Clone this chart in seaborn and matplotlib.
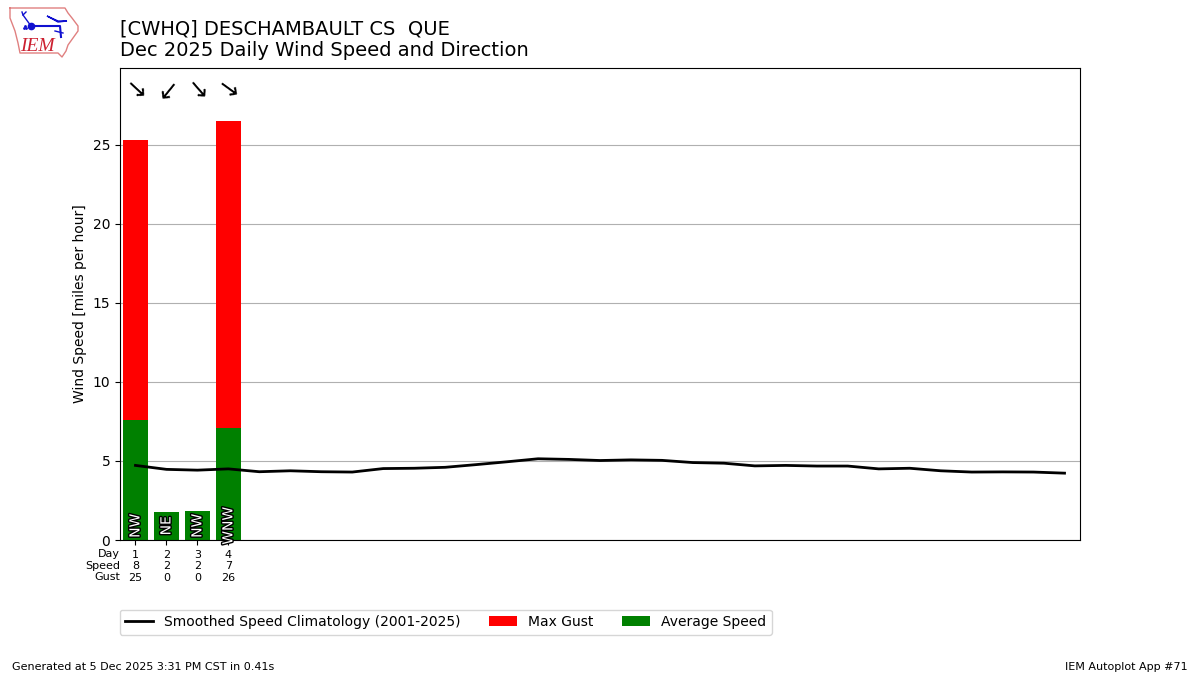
import numpy as np
import pandas as pd
import matplotlib
matplotlib.use("Agg")
import matplotlib.pyplot as plt
import matplotlib.patheffects as pe
import seaborn as sns

# values
days = [1, 2, 3, 4]
avg_speed = [7.6, 1.8, 1.85, 7.1]
max_gust = [25.3, 0, 0, 26.5]
speed_labels = [8, 2, 2, 7]
gust_labels = [25, 0, 0, 26]
dir_labels = ["NW", "NE", "NW", "WNW"]
dir_degrees = [313, 39, 319, 306]

clim_days = list(range(1, 32))
clim_speed = [4.72, 4.47, 4.42, 4.5, 4.32, 4.38, 4.32, 4.3, 4.52, 4.54, 4.6,
              4.77, 4.95, 5.14, 5.1, 5.03, 5.07, 5.04, 4.9, 4.86, 4.69, 4.72,
              4.68, 4.68, 4.5, 4.54, 4.38, 4.3, 4.31, 4.3, 4.23]

row_names = ["Day", "Speed", "Gust"]

# logo outline, in pixels of the logo box
iowa_x = [10, 65, 68, 72, 78, 78, 73, 68, 66, 62, 58, 20, 18, 15, 10, 10]
iowa_y = [8, 8, 13, 18, 26, 31, 38, 45, 51, 57, 53, 53, 43, 31, 18, 8]

df = pd.DataFrame({"day": days, "speed": avg_speed, "gust": max_gust})

fig = plt.figure(figsize=(12, 6.75), dpi=100)
ax = fig.add_axes([0.1, 0.2, 0.8, 0.7])

sns.barplot(data=df, x="day", y="gust", native_scale=True, width=0.8,
            color="red", saturation=1, label="Max Gust", zorder=2, ax=ax)
sns.barplot(data=df, x="day", y="speed", native_scale=True, width=0.8,
            color="green", saturation=1, label="Average Speed", zorder=2, ax=ax)
sns.lineplot(x=clim_days, y=clim_speed, color="k", lw=2, zorder=3, ax=ax,
             label="Smoothed Speed Climatology (2001-2025)")

# direction text on the bars, wind arrows along the top
for day, name, deg in zip(days, dir_labels, dir_degrees):
    ax.text(day, 0.9, name, rotation=90, ha="center", va="center", color="white",
            fontsize=10, zorder=4,
            path_effects=[pe.withStroke(linewidth=2, foreground="k")])
    rad = np.radians(deg)
    angle = np.degrees(np.arctan2(-np.cos(rad), -np.sin(rad)))
    ax.text(day - 0.02, 28.5, "\u2192", rotation=angle, rotation_mode="anchor",
            ha="center", va="center", fontsize=18, color="k", zorder=5)

ax.set_xlim(0.5, 31.5)
ax.set_ylim(0, 29.9)
ax.set_yticks([0, 5, 10, 15, 20, 25])
ax.grid(True, axis="y", color="#b0b0b0", zorder=0)
ax.set_axisbelow(True)
ax.set_xlabel("")
ax.set_ylabel("Wind Speed [miles per hour]")

ax.set_xticks(days)
ax.set_xticklabels([f"{d}\n{s}\n{g}" for d, s, g in zip(days, speed_labels, gust_labels)],
                   fontsize=8)
fig.text(120 / 1200, 1 - 549 / 675, "\n".join(row_names), ha="right", va="top", fontsize=8)

ax.set_title("[CWHQ] DESCHAMBAULT CS  QUE\nDec 2025 Daily Wind Speed and Direction",
             loc="left", fontsize=14, pad=8)

handles, labels = ax.get_legend_handles_labels()
order = [labels.index("Smoothed Speed Climatology (2001-2025)"),
         labels.index("Max Gust"), labels.index("Average Speed")]
ax.legend([handles[i] for i in order], [labels[i] for i in order], ncol=3,
          loc="upper left", bbox_to_anchor=(-0.0077, -0.1324), fontsize=10,
          columnspacing=2.07)

fig.text(0.01, 0.0045, "Generated at 5 Dec 2025 3:31 PM CST in 0.41s", fontsize=8, va="bottom")
fig.text(0.99, 0.0045, "IEM Autoplot App #71", fontsize=8, ha="right", va="bottom")

# small IEM logo
logo = fig.add_axes([0, 1 - 60 / 675, 85 / 1200, 60 / 675])
logo.set_xlim(0, 85)
logo.set_ylim(60, 0)
logo.axis("off")
logo.plot(iowa_x, iowa_y, color="#e08080", lw=1)
logo.plot([31, 60, 61], [26, 26, 37], color="#1010d0", lw=1.5)
logo.plot([31, 23, 22], [26, 15, 12], color="#1010d0", lw=1)
logo.plot([23, 26], [15, 12], color="#1010d0", lw=1)
logo.fill([47, 58, 67, 58], [16, 21, 21, 22], color="#1010d0")
logo.plot([55, 63], [31, 33], color="#1010d0", lw=1)
logo.plot([31], [26], "o", color="#1010d0", ms=4.5)
logo.plot([24, 26, 25], [28, 28, 26], ".", color="#1010d0", ms=2)
logo.text(20, 51, "IEM", color="#cc2030", fontsize=14, style="italic", family="Liberation Serif")

fig.savefig("out.png", dpi=100)
